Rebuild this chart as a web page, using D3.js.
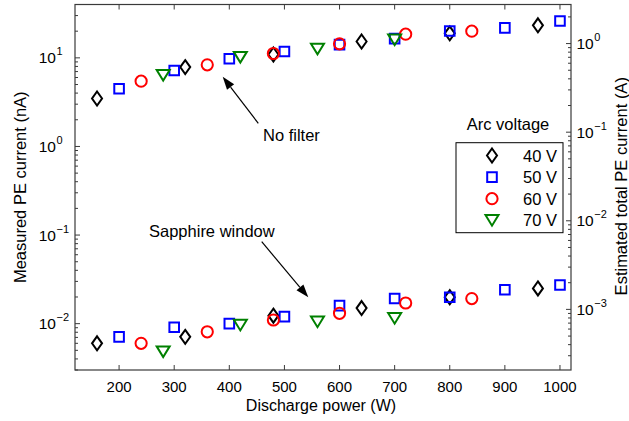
<!DOCTYPE html>
<html>
<head>
<meta charset="utf-8">
<script src="https://cdn.jsdelivr.net/npm/d3@7"></script>
<style>
  body {margin:0; background:#fff;}
  svg text {font-family:"Liberation Sans", Arial, sans-serif; fill:#000;}
</style>
</head>
<body>
<svg width="629" height="421"></svg>
<script>
// discharge power (W) for each arc voltage
var p40 = [160, 320, 480, 640, 800, 960],
    p50 = [200, 300, 400, 500, 600, 700, 800, 900, 1000],
    p60 = [240, 360, 480, 600, 720, 840],
    p70 = [280, 420, 560, 700];

// measured PE current (nA), no filter
var up40 = [3.48, 7.86, 10.9, 15.3, 18.9, 23.3],
    up50 = [4.48, 7.21, 9.75, 11.8, 14.1, 16.5, 20.1, 21.8, 26.1],
    up60 = [5.46, 8.34, 11.2, 14.4, 18.5, 20.0],
    up70 = [6.38, 10.2, 12.6, 16.0];

// measured PE current (nA), sapphire window
var lo40 = [0.0060, 0.0071, 0.0123, 0.0150, 0.0199, 0.0250],
    lo50 = [0.0071, 0.0091, 0.0100, 0.0120, 0.0160, 0.0192, 0.0199, 0.0241, 0.0273],
    lo60 = [0.0060, 0.0081, 0.0110, 0.0131, 0.0171, 0.0192],
    lo70 = [0.00484, 0.00966, 0.0105, 0.0115];

var voltages = ["40 V", "50 V", "60 V", "70 V"];
var xTicks = [200, 300, 400, 500, 600, 700, 800, 900, 1000];
var leftDecades = [-2, -1, 0, 1];
var rightDecades = [-3, -2, -1, 0];

var svg = d3.select("svg");
var L = 75, R = 571, T = 4.5, B = 370;

var x = d3.scaleLinear().domain([120, 1020]).range([L, R]);
var y = d3.scaleLog().domain([0.003, 40]).range([B, T]);
var k = 0.069; // conversion factor to estimated total current (A)
var y2 = d3.scaleLog().domain([0.003 * k, 40 * k]).range([B, T]);

var axisColor = "#3a3a3a";

// frame
svg.append("rect").attr("x", L).attr("y", T).attr("width", R - L).attr("height", B - T)
  .attr("fill", "none").attr("stroke", axisColor).attr("stroke-width", 1.2);

// x ticks (bottom + top, inward)
var xt = svg.append("g").attr("stroke", axisColor).attr("stroke-width", 1);
xTicks.forEach(function(v) {
  xt.append("line").attr("x1", x(v)).attr("x2", x(v)).attr("y1", B).attr("y2", B - 5);
  xt.append("line").attr("x1", x(v)).attr("x2", x(v)).attr("y1", T).attr("y2", T + 5);
});
svg.append("g").selectAll("text").data(xTicks).enter().append("text")
  .attr("x", function(d) { return x(d); }).attr("y", 392)
  .attr("text-anchor", "middle").attr("font-size", 15)
  .text(function(d) { return d; });

// log axis ticks
function logTicks(scale, x0, dir) {
  var g = svg.append("g").attr("stroke", axisColor).attr("stroke-width", 1);
  scale.ticks().forEach(function(v) {
    var major = Math.abs(Math.log10(v) - Math.round(Math.log10(v))) < 1e-9;
    var len = major ? 5 : 3;
    g.append("line").attr("x1", x0).attr("x2", x0 + dir * len)
      .attr("y1", scale(v)).attr("y2", scale(v));
  });
}
logTicks(y, L, 1);
logTicks(y2, R, -1);

function powLabels(decades, scale, xBase, anchorEnd) {
  var g = svg.append("g");
  decades.forEach(function(e) {
    var yy = scale(Math.pow(10, e));
    var t = g.append("text").attr("y", yy + 5.5).attr("font-size", 15.5);
    if (anchorEnd) {
      t.attr("x", xBase).attr("text-anchor", "end").text("10");
      g.append("text").attr("x", xBase + 0.5).attr("y", yy - 2.5)
        .attr("font-size", 11).text(e < 0 ? "\u2212" + (-e) : e);
    } else {
      t.attr("x", xBase).text("10");
      g.append("text").attr("x", xBase + 17.8).attr("y", yy - 2.5)
        .attr("font-size", 11).text(e < 0 ? "\u2212" + (-e) : e);
    }
  });
}
powLabels(leftDecades, y, 56, true);
powLabels(rightDecades, y2, 576.5, false);

// axis titles
svg.append("text").attr("x", (L + R) / 2 - 2).attr("y", 410.5)
  .attr("text-anchor", "middle").attr("font-size", 16).text("Discharge power (W)");
svg.append("text").attr("transform", "translate(26," + ((T + B) / 2) + ") rotate(-90)")
  .attr("text-anchor", "middle").attr("font-size", 16.5).text("Measured PE current (nA)");
svg.append("text").attr("transform", "translate(627," + ((T + B) / 2 - 1) + ") rotate(-90)")
  .attr("text-anchor", "middle").attr("font-size", 16.5).text("Estimated total PE current (A)");

// markers
var shapes = {
  "40 V": "M0,-7L5,0L0,7L-5,0Z",
  "50 V": "M-4.8,-4.8H4.8V4.8H-4.8Z",
  "60 V": d3.symbol().type(d3.symbolCircle).size(Math.PI * 5.6 * 5.6)(),
  "70 V": "M-6.5,-5.2L6.5,-5.2L0,5.4Z"
};
var colors = {"40 V": "#000000", "50 V": "#0000ff", "60 V": "#ff0000", "70 V": "#008000"};

var series = [
  {key: "40 V", p: p40, up: up40, lo: lo40},
  {key: "50 V", p: p50, up: up50, lo: lo50},
  {key: "60 V", p: p60, up: up60, lo: lo60},
  {key: "70 V", p: p70, up: up70, lo: lo70}
];

series.forEach(function(s) {
  var pts = s.p.map(function(p, i) { return [p, s.up[i]]; })
    .concat(s.p.map(function(p, i) { return [p, s.lo[i]]; }));
  svg.append("g").selectAll("path").data(pts).enter().append("path")
    .attr("d", shapes[s.key])
    .attr("transform", function(d) { return "translate(" + x(d[0]) + "," + y(d[1]) + ")"; })
    .attr("fill", "none").attr("stroke", colors[s.key]).attr("stroke-width", 2);
});

// legend
svg.append("text").attr("x", 508).attr("y", 130).attr("text-anchor", "middle")
  .attr("font-size", 16.5).text("Arc voltage");
svg.append("rect").attr("x", 456).attr("y", 142.7).attr("width", 107).attr("height", 90)
  .attr("fill", "#fff").attr("stroke", "#000").attr("stroke-width", 1);
var lg = svg.append("g").selectAll("g").data(voltages).enter().append("g")
  .attr("transform", function(d, i) { return "translate(0," + (155.5 + i * 21.6) + ")"; });
lg.append("path").attr("d", function(d) { return shapes[d]; })
  .attr("transform", "translate(492,0)")
  .attr("fill", "none").attr("stroke", function(d) { return colors[d]; }).attr("stroke-width", 2);
lg.append("text").attr("x", 557).attr("y", 6).attr("text-anchor", "end")
  .attr("font-size", 16.5).text(function(d) { return d; });

// annotations
function arrow(x1, y1, x2, y2) {
  var a = Math.atan2(y2 - y1, x2 - x1), len = 13, w = 4.5;
  var bx = x2 - len * Math.cos(a), by = y2 - len * Math.sin(a);
  svg.append("line").attr("x1", x1).attr("y1", y1).attr("x2", bx).attr("y2", by)
    .attr("stroke", "#000").attr("stroke-width", 1.2);
  svg.append("path")
    .attr("d", "M" + x2 + "," + y2 +
      "L" + (bx + w * Math.sin(a)) + "," + (by - w * Math.cos(a)) +
      "L" + (bx - w * Math.sin(a)) + "," + (by + w * Math.cos(a)) + "Z")
    .attr("fill", "#000");
}
arrow(258.3, 123.3, 222.7, 76.7);
arrow(261.7, 241.7, 308.3, 297.3);
svg.append("text").attr("x", 263).attr("y", 141).attr("font-size", 16.5).text("No filter");
svg.append("text").attr("x", 149).attr("y", 237).attr("font-size", 16.5).text("Sapphire window");
</script>
</body>
</html>
